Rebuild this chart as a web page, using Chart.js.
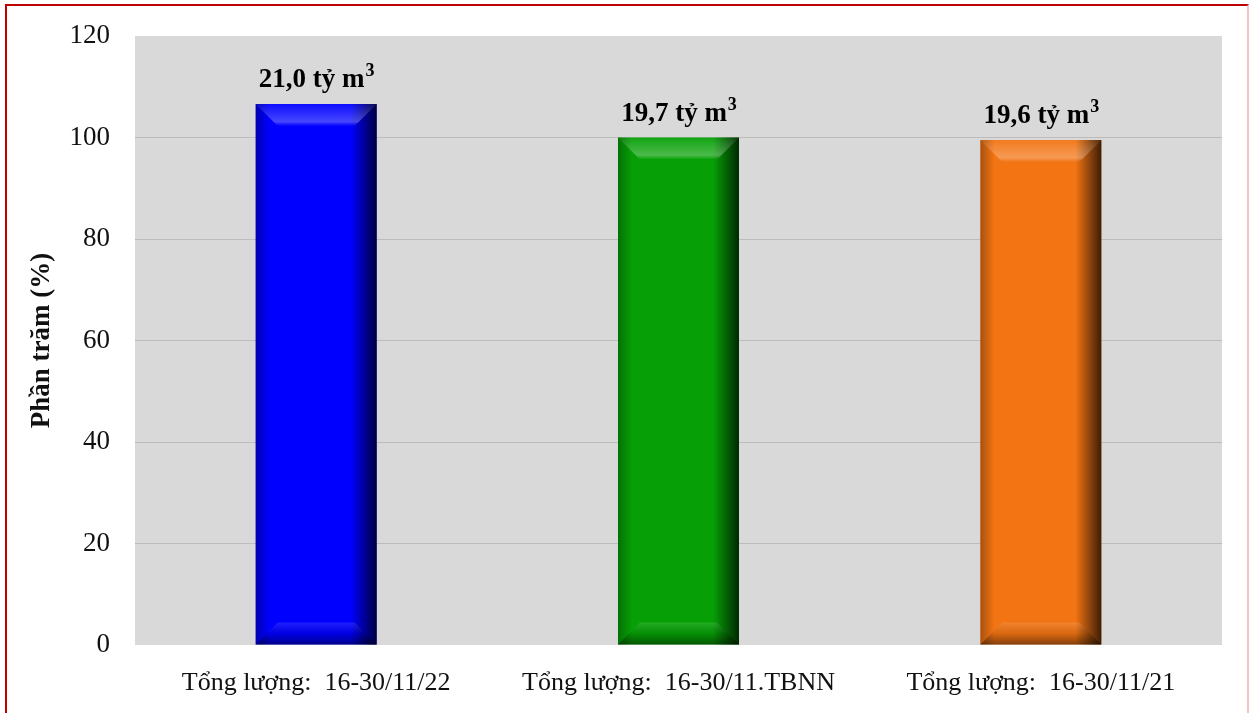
<!DOCTYPE html>
<html lang="vi">
<head>
  <meta charset="UTF-8">
  <title>Tổng lượng dòng chảy</title>
  <script src="https://cdn.jsdelivr.net/npm/chart.js"></script>
  <style>
    html, body {
      margin: 0;
      padding: 0;
      background: #fff;
    }

    .wrap {
      position: relative;
      width: 1251px;
      height: 713px;
    }

    .frame {
      position: absolute;
      left: 5px;
      top: 4px;
      width: 1240px;
      height: 710px;
      border: 2px solid #c00000;
      border-right-color: #f4c4c4;
      border-bottom: none;
      pointer-events: none;
    }
  </style>
</head>
<body>

  <div class="wrap">
    <canvas id="flowChart" width="1251" height="713"></canvas>
    <div class="frame"></div>
  </div>

  <script>
  // so liệu
  const categories = ["Tổng lượng:  16-30/11/22", "Tổng lượng:  16-30/11.TBNN", "Tổng lượng:  16-30/11/21"];
  const percents = [106.6, 100, 99.5];
  const volumes = ["21,0", "19,7", "19,6"];
  const barColors = ["#0000ff", "#06a006", "#f27413"];
  const yTicks = [0, 20, 40, 60, 80, 100, 120];

  const serif = "'Liberation Serif', 'Times New Roman', serif";

  // nền xám cho vùng vẽ
  const plotBg = {
    id: "plotBg",
    beforeDraw(chart) {
      const { ctx, chartArea: a } = chart;
      ctx.save();
      ctx.fillStyle = "#d9d9d9";
      ctx.fillRect(a.left, a.top, a.right - a.left, a.bottom - a.top);
      ctx.restore();
    }
  };

  // hiệu ứng nổi (bevel) cho cột
  const bevel = {
    id: "bevel",
    afterDatasetsDraw(chart) {
      const ctx = chart.ctx;
      chart.getDatasetMeta(0).data.forEach((bar) => {
        const l = bar.x - bar.width / 2, r = bar.x + bar.width / 2;
        const t = bar.y, b = bar.base;
        const d = 22;
        ctx.save();

        // viền phải tối
        let g = ctx.createLinearGradient(r - 26, 0, r, 0);
        g.addColorStop(0, "rgba(0,0,0,0)");
        g.addColorStop(1, "rgba(0,0,0,0.75)");
        ctx.fillStyle = g;
        ctx.fillRect(r - 26, t, 26, b - t);

        // viền trái hơi tối
        g = ctx.createLinearGradient(l, 0, l + 14, 0);
        g.addColorStop(0, "rgba(0,0,0,0.3)");
        g.addColorStop(1, "rgba(0,0,0,0)");
        ctx.fillStyle = g;
        ctx.fillRect(l, t, 14, b - t);

        // mặt trên sáng
        ctx.beginPath();
        ctx.moveTo(l, t);
        ctx.lineTo(r, t);
        ctx.lineTo(r - d, t + d);
        ctx.lineTo(l + d, t + d);
        ctx.closePath();
        g = ctx.createLinearGradient(0, t, 0, t + d);
        g.addColorStop(0, "rgba(255,255,255,0.05)");
        g.addColorStop(0.8, "rgba(255,255,255,0.28)");
        g.addColorStop(1, "rgba(255,255,255,0)");
        ctx.fillStyle = g;
        ctx.fill();

        // mặt dưới tối
        ctx.beginPath();
        ctx.moveTo(l, b);
        ctx.lineTo(r, b);
        ctx.lineTo(r - d, b - d);
        ctx.lineTo(l + d, b - d);
        ctx.closePath();
        g = ctx.createLinearGradient(0, b - d, 0, b);
        g.addColorStop(0, "rgba(255,255,255,0.12)");
        g.addColorStop(0.5, "rgba(0,0,0,0.1)");
        g.addColorStop(1, "rgba(0,0,0,0.45)");
        ctx.fillStyle = g;
        ctx.fill();

        ctx.restore();
      });
    }
  };

  // nhãn giá trị "xx,x tỷ m³" trên đỉnh cột
  const valueLabels = {
    id: "valueLabels",
    afterDatasetsDraw(chart) {
      const ctx = chart.ctx;
      chart.getDatasetMeta(0).data.forEach((bar, i) => {
        const main = volumes[i] + " tỷ m";
        ctx.save();
        ctx.fillStyle = "#000";
        ctx.textBaseline = "alphabetic";
        ctx.font = "bold 27px " + serif;
        const w1 = ctx.measureText(main).width;
        ctx.font = "bold 18px " + serif;
        const w2 = ctx.measureText("3").width;
        const x0 = bar.x - (w1 + w2) / 2;
        const yb = bar.y - 17;
        ctx.font = "bold 27px " + serif;
        ctx.textAlign = "left";
        ctx.fillText(main, x0, yb);
        ctx.font = "bold 18px " + serif;
        ctx.fillText("3", x0 + w1 + 1, yb - 11);
        ctx.restore();
      });
    }
  };

  new Chart(document.getElementById("flowChart"), {
    type: "bar",
    data: {
      labels: categories,
      datasets: [{
        data: percents,
        backgroundColor: barColors,
        borderWidth: 0,
        barPercentage: 1,
        categoryPercentage: 0.334
      }]
    },
    options: {
      responsive: false,
      animation: false,
      layout: {
        padding: { top: 36, right: 29, bottom: 0, left: 0 }
      },
      plugins: {
        legend: { display: false },
        tooltip: { enabled: false }
      },
      scales: {
        x: {
          afterFit(scale) {
            scale.height = 68;
          },
          grid: { display: false, drawTicks: false },
          border: { display: false },
          ticks: {
            color: "#111",
            padding: 23,
            maxRotation: 0,
            font: { family: serif, size: 26 }
          }
        },
        y: {
          min: 0,
          max: 120,
          afterBuildTicks(scale) {
            scale.ticks = yTicks.map((v) => ({ value: v }));
          },
          afterFit(scale) {
            scale.width = 135;
            scale.paddingTop = 0;
            scale.paddingBottom = 0;
          },
          grid: {
            color: (c) => (c.tick.value === 120 || c.tick.value === 0) ? "rgba(0,0,0,0)" : "#bcbcbc",
            lineWidth: 1,
            drawTicks: false
          },
          border: { display: false },
          ticks: {
            color: "#111",
            padding: 25,
            font: { family: serif, size: 27 }
          },
          title: {
            display: true,
            text: "Phần trăm (%)",
            color: "#111",
            padding: { top: 26, bottom: 0 },
            font: { family: serif, size: 27, weight: "bold" }
          }
        }
      }
    },
    plugins: [plotBg, bevel, valueLabels]
  });
</script>
</body>
</html>
